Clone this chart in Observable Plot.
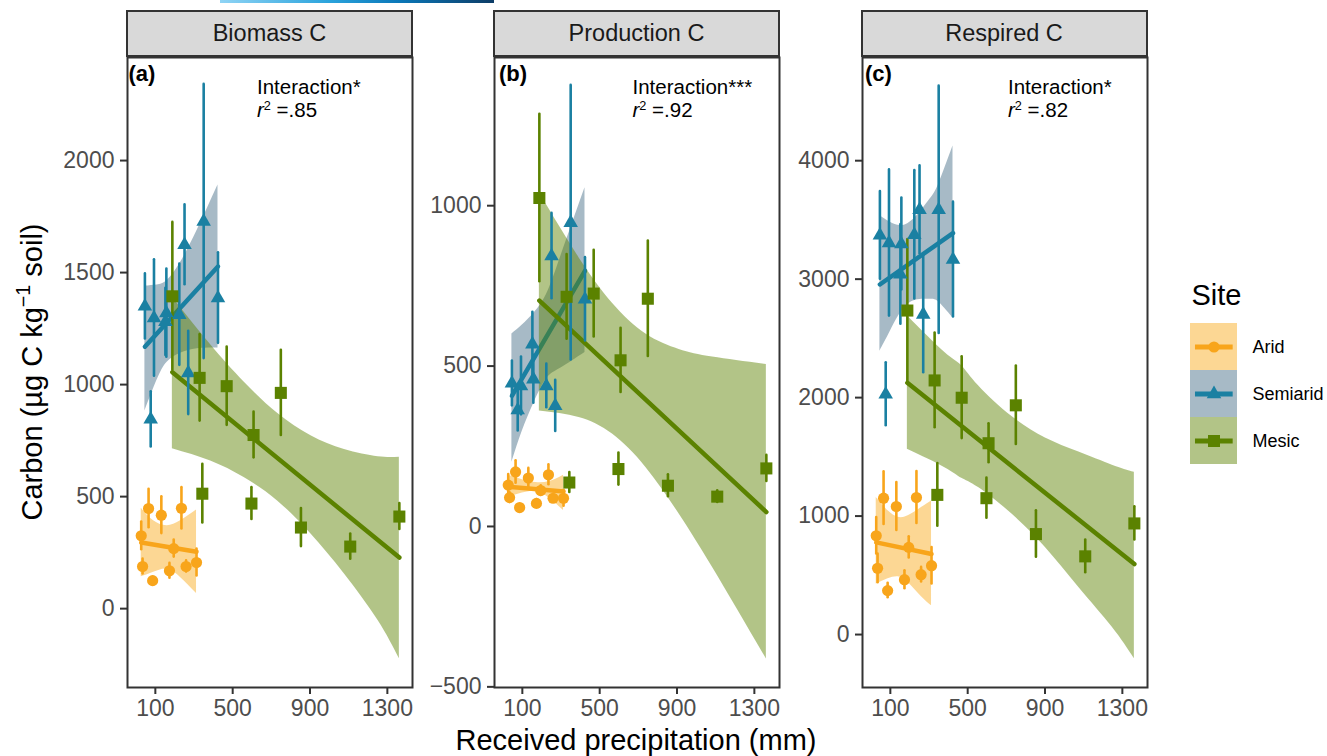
<!DOCTYPE html>
<html><head><meta charset="utf-8">
<script src="https://cdn.jsdelivr.net/npm/d3@7"></script>
<script src="https://cdn.jsdelivr.net/npm/@observablehq/plot@0.6"></script>
<style>
body{margin:0;background:#fff}
#wrap{position:relative;width:1327px;height:756px;overflow:hidden;background:#fff;font-family:"Liberation Sans",Arial,Helvetica,sans-serif}
.strip{position:absolute;top:10px;height:47px;width:287px;background:#d9d9d9;border:2px solid #333;box-sizing:border-box;font-size:23.5px;color:#1a1a1a;display:flex;align-items:center;justify-content:center}
.ann{position:absolute;font-size:20.5px;line-height:23px;color:#000;white-space:nowrap}
.ann sup{font-size:0.62em;vertical-align:0.55em;line-height:0}
.tag{position:absolute;font-size:22px;font-weight:bold;line-height:22px;color:#000}
.abs{position:absolute}
</style></head>
<body><div id="wrap"></div>
<script>
// ---------------- data ----------------
const SITES = ["Arid", "Semiarid", "Mesic"];
const panelTitles = ["Biomass C", "Production C", "Respired C"];
const panelTags = ["(a)", "(b)", "(c)"];
const interactionLabels = ["Interaction*", "Interaction***", "Interaction*"];
const r2Labels = [".85", ".92", ".82"];
const xTicks = [100, 500, 900, 1300];
const bioTicks = [0, 500, 1000, 1500, 2000];
const prodTicks = [-500, 0, 500, 1000];
const respTicks = [0, 1000, 2000, 3000, 4000];

// received precipitation (mm) of each site
const aridX  = [27, 34, 65, 86, 131, 173, 195, 235, 259, 313];
const semiX  = [46, 76, 93, 152, 157, 224, 251, 270, 350, 424];
const mesicX = [188, 329, 343, 469, 597, 608, 749, 853, 1108, 1362];

// Biomass C
const bioArid    = [325, 188, 447, 125, 417, 169, 268, 448, 188, 206];
const bioAridSE  = [62, 33, 86, 15, 82, 33, 38, 92, 25, 60];
const bioSemi    = [1349, 845, 1297, 1280, 1319, 1312, 1624, 1052, 1728, 1386];
const bioSemiSE  = [145, 123, 260, 150, 197, 226, 178, 186, 612, 202];
const bioMesic   = [1394, 1030, 513, 993, 469, 775, 963, 362, 277, 411];
const bioMesicSE = [330, 193, 131, 175, 71, 102, 190, 85, 56, 58];
const bioAridFit  = [[27, 295], [313, 254]];
const bioSemiFit  = [[46, 1169], [424, 1527]];
const bioMesicFit = [[188, 1055], [1362, 228]];
const bioAridBand  = [[27, 142, 448], [91, 162, 392], [161, 177, 370], [230, 139, 392], [313, 68, 440]];
const bioSemiBand  = [[46, 882, 1440], [109, 1020, 1445], [161, 1100, 1465], [230, 1140, 1545], [317, 1160, 1690], [424, 1163, 1891]];
const bioMesicBand = [[188, 714, 1390], [386, 659, 1178], [559, 585, 1012], [732, 481, 872], [905, 333, 772], [1078, 155, 710], [1252, -53, 678], [1362, -224, 676]];

// Production C
const prodArid    = [129, 90, 170, 59, 151, 72, 112, 161, 88, 88];
const prodAridSE  = [33, 15, 35, 10, 30, 12, 15, 31, 12, 25];
const prodSemi    = [446, 363, 438, 568, 459, 438, 843, 376, 947, 708];
const prodSemiSE  = [70, 65, 90, 100, 75, 68, 133, 80, 428, 130];
const prodMesic   = [1024, 716, 137, 726, 179, 518, 710, 127, 93, 181];
const prodMesicSE = [261, 132, 31, 135, 50, 100, 180, 34, 18, 41];
const prodAridFit  = [[27, 124], [313, 109]];
const prodSemiFit  = [[46, 407], [424, 797]];
const prodMesicFit = [[188, 704], [1362, 45]];
const prodAridBand  = [[27, 90, 160], [100, 104, 146], [170, 108, 137], [240, 88, 140], [313, 50, 160]];
const prodSemiBand  = [[46, 200, 600], [100, 298, 628], [160, 385, 665], [224, 460, 722], [300, 494, 844], [424, 542, 1056]];
const prodMesicBand = [[188, 360, 1040], [393, 340, 838], [566, 288, 696], [739, 184, 600], [911, 39, 552], [1084, -128, 528], [1362, -413, 505]];

// Respired C
const respArid    = [834, 559, 1151, 371, 1081, 463, 736, 1157, 505, 581];
const respAridSE  = [154, 121, 222, 61, 202, 76, 90, 219, 62, 154];
const respSemi    = [3370, 2028, 3305, 3040, 3296, 3374, 3585, 2702, 3585, 3165];
const respSemiSE  = [370, 266, 617, 420, 388, 542, 371, 492, 1044, 485];
const respMesic   = [2735, 2145, 1179, 1999, 1151, 1615, 1935, 848, 660, 938];
const respMesicSE = [600, 400, 264, 345, 169, 165, 331, 196, 138, 140];
const respAridFit  = [[27, 778], [313, 680]];
const respSemiFit  = [[46, 2955], [424, 3389]];
const respMesicFit = [[188, 2125], [1362, 595]];
const respAridBand  = [[27, 427, 1156], [88, 470, 1044], [140, 488, 990], [192, 440, 1002], [261, 320, 1072], [313, 244, 1128]];
const respSemiBand  = [[46, 2392, 3538], [100, 2560, 3480], [192, 2790, 3470], [296, 2830, 3655], [348, 2810, 3795], [424, 2673, 4125]];
const respMesicBand = [[188, 1564, 2690], [382, 1409, 2380], [469, 1320, 2270], [556, 1241, 2100], [729, 1017, 1840], [902, 735, 1660], [1075, 398, 1540], [1248, 61, 1430], [1362, -205, 1370]];

// ---------------- styles ----------------
const siteColor   = ["#f8a51b", "#1a80a2", "#5b8200"];
const ribbonColor = ["#f9ab1c", "#446c86", "#5b8200"];
const ribbonOpacity = 0.47;
const siteSymbol  = ["circle", "triangle", "square"];
const siteR       = [5.6, 5.4, 6.8];
const FONT = '"Liberation Sans", Arial, Helvetica, sans-serif';

const wrap = document.getElementById("wrap");
const fmt = d3.format("d");

const panels = [
  {left: 127,   y: [-352, 2460], ticks: bioTicks,
   vals: [bioArid, bioSemi, bioMesic], se: [bioAridSE, bioSemiSE, bioMesicSE],
   fits: [bioAridFit, bioSemiFit, bioMesicFit], bands: [bioAridBand, bioSemiBand, bioMesicBand],
   tagLeft: 128.5, annLeft: 257},
  {left: 494,   y: [-502, 1462], ticks: prodTicks,
   vals: [prodArid, prodSemi, prodMesic], se: [prodAridSE, prodSemiSE, prodMesicSE],
   fits: [prodAridFit, prodSemiFit, prodMesicFit], bands: [prodAridBand, prodSemiBand, prodMesicBand],
   tagLeft: 499, annLeft: 632.5},
  {left: 861.5, y: [-447, 4871], ticks: respTicks,
   vals: [respArid, respSemi, respMesic], se: [respAridSE, respSemiSE, respMesicSE],
   fits: [respAridFit, respSemiFit, respMesicFit], bands: [respAridBand, respSemiBand, respMesicBand],
   tagLeft: 865, annLeft: 1008}
];
const xsBySite = [aridX, semiX, mesicX];

const ML = 80, MR = 3, MT = 3, MB = 50, PW = 285, PH = 630, PTOP = 57;

panels.forEach((p, k) => {
  const marks = [];
  SITES.forEach((s, i) => {
    marks.push(Plot.areaY(p.bands[i], {x: d => d[0], y1: d => d[1], y2: d => d[2],
      fill: ribbonColor[i], fillOpacity: ribbonOpacity, curve: "natural"}));
    marks.push(Plot.line(p.fits[i], {x: d => d[0], y: d => d[1], stroke: siteColor[i], strokeWidth: 4.5}));
  });
  const rows = SITES.map((s, i) => xsBySite[i].map((x, j) => ({x, y: p.vals[i][j], se: p.se[i][j]})));
  SITES.forEach((s, i) => {
    marks.push(Plot.ruleX(rows[i], {x: "x", y1: d => d.y - d.se, y2: d => d.y + d.se,
      stroke: siteColor[i], strokeWidth: 2.6, strokeLinecap: "round"}));
  });
  SITES.forEach((s, i) => {
    marks.push(Plot.dot(rows[i], {x: "x", y: "y", fill: siteColor[i], symbol: siteSymbol[i], r: siteR[i]}));
  });
  marks.push(Plot.axisX({ticks: xTicks, tickFormat: fmt, tickSize: 7, tickPadding: 5, fontSize: 23,
    stroke: "#333", strokeWidth: 2, fill: "#4d4d4d", label: null}));
  marks.push(Plot.axisY({ticks: p.ticks, tickFormat: fmt, tickSize: 7, tickPadding: 6, fontSize: 23,
    stroke: "#333", strokeWidth: 2, fill: "#4d4d4d", label: null}));
  marks.push(Plot.frame({stroke: "#333", strokeWidth: 2}));

  const svg = Plot.plot({
    width: ML + PW + MR, height: MT + PH + MB,
    marginLeft: ML, marginRight: MR, marginTop: MT, marginBottom: MB,
    x: {domain: [-44, 1430]},
    y: {domain: p.y},
    style: {fontFamily: FONT, fontSize: "23px", background: "transparent", overflow: "visible"},
    marks
  });
  svg.style.position = "absolute";
  svg.style.left = (p.left - ML) + "px";
  svg.style.top = (PTOP - MT) + "px";
  wrap.appendChild(svg);

  const strip = document.createElement("div");
  strip.className = "strip";
  strip.style.left = (p.left - 1) + "px";
  strip.textContent = panelTitles[k];
  wrap.appendChild(strip);

  const tag = document.createElement("div");
  tag.className = "tag";
  tag.style.left = p.tagLeft + "px";
  tag.style.top = "62.5px";
  tag.textContent = panelTags[k];
  wrap.appendChild(tag);

  const ann = document.createElement("div");
  ann.className = "ann";
  ann.style.left = p.annLeft + "px";
  ann.style.top = "74.5px";
  ann.innerHTML = interactionLabels[k] + "<br><i>r</i><sup>2</sup> =" + r2Labels[k];
  wrap.appendChild(ann);
});

// axis titles
const yt = document.createElement("div");
yt.className = "abs";
Object.assign(yt.style, {left: "-268px", top: "355px", width: "600px", lineHeight: "34px", fontSize: "29px",
  textAlign: "center", transform: "rotate(-90deg)", color: "#000", whiteSpace: "nowrap"});
yt.innerHTML = 'Carbon (µg C kg<sup style="font-size:0.68em;vertical-align:0.6em;line-height:0">−1</sup> soil)';
wrap.appendChild(yt);

const xt = document.createElement("div");
xt.className = "abs";
Object.assign(xt.style, {left: "336px", top: "723px", width: "600px", lineHeight: "34px", fontSize: "29px",
  textAlign: "center", color: "#000", whiteSpace: "nowrap"});
xt.textContent = "Received precipitation (mm)";
wrap.appendChild(xt);

// legend
const lt = document.createElement("div");
lt.className = "abs";
Object.assign(lt.style, {left: "1191.5px", top: "278px", lineHeight: "34px", fontSize: "29px", color: "#000"});
lt.textContent = "Site";
wrap.appendChild(lt);

const keyMarks = [];
SITES.forEach((s, i) => {
  keyMarks.push(Plot.barX([s], {x1: 0, x2: 1, y: d => d, fill: ribbonColor[i], fillOpacity: ribbonOpacity}));
  keyMarks.push(Plot.ruleY([s], {y: d => d, x1: 0.106, x2: 0.908, stroke: siteColor[i], strokeWidth: 5}));
  keyMarks.push(Plot.dot([s], {x: 0.5, y: d => d, fill: siteColor[i], symbol: siteSymbol[i], r: siteR[i]}));
});
const key = Plot.plot({
  width: 47, height: 141, margin: 0,
  x: {domain: [0, 1], axis: null},
  y: {type: "band", domain: SITES, padding: 0, axis: null},
  style: {background: "transparent", overflow: "visible"},
  marks: keyMarks
});
key.style.position = "absolute";
key.style.left = "1190px";
key.style.top = "323px";
wrap.appendChild(key);

SITES.forEach((s, i) => {
  const d = document.createElement("div");
  d.className = "abs";
  Object.assign(d.style, {left: "1252.5px", top: (336.8 + i * 47) + "px", lineHeight: "20px", fontSize: "18px", color: "#000"});
  d.textContent = s;
  wrap.appendChild(d);
});

// thin decorative gradient bar at the top edge of the original image
const bar = document.createElement("div");
bar.className = "abs";
Object.assign(bar.style, {left: "220px", top: "0px", width: "274px", height: "3px",
  background: "linear-gradient(to right, #8fd4f5, #2aa3dc 40%, #0b78b9 65%, #0d3c66)"});
wrap.appendChild(bar);
</script>
</body></html>
